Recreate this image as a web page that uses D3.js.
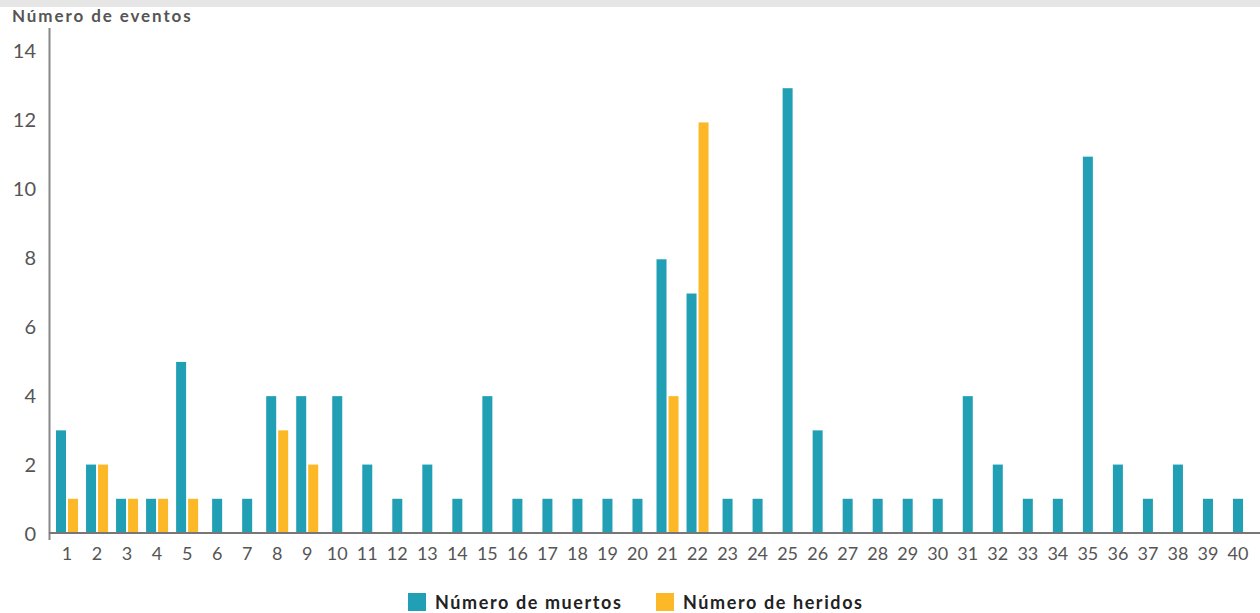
<!DOCTYPE html>
<html>
<head>
<meta charset="utf-8">
<script src="https://cdnjs.cloudflare.com/ajax/libs/d3/7.8.5/d3.min.js"></script>
<style>
  body { margin: 0; background: #fff; }
  svg { display: block; font-family: "Lato", "DejaVu Sans", sans-serif; }
</style>
</head>
<body>
<div id="chart"></div>
<script>
var categories = d3.range(1, 41).map(String);
var muertos = [3, 2, 1, 1, 5, 1, 1, 4, 4, 4, 2, 1, 2, 1, 4, 1, 1, 1, 1, 1,
               8, 7, 1, 1, 13, 3, 1, 1, 1, 1, 4, 2, 1, 1, 11, 2, 1, 2, 1, 1];
var heridos = [1, 2, 1, 1, 1, 0, 0, 3, 2, 0, 0, 0, 0, 0, 0, 0, 0, 0, 0, 0,
               4, 12, 0, 0, 0, 0, 0, 0, 0, 0, 0, 0, 0, 0, 0, 0, 0, 0, 0, 0];
var yTicks = [0, 2, 4, 6, 8, 10, 12, 14];
var seriesNames = ["Número de muertos", "Número de heridos"];
var colors = ["#219fb5", "#fdb827"];

var width = 1260, height = 613;
var svg = d3.select("#chart").append("svg")
    .attr("width", width).attr("height", height);

// top grey band
svg.append("rect").attr("x", 0).attr("y", 0)
    .attr("width", width).attr("height", 7).attr("fill", "#e6e6e6");

var x = d3.scaleBand().domain(categories).range([52, 1253]);
var y = d3.scaleLinear().domain([0, 14]).range([533, 54]);

var barW = 10, gap = 2;

// build bars: group centred on category, skipping empty series
var bars = [];
categories.forEach(function (c, i) {
    var vals = [muertos[i], heridos[i]];
    var present = [];
    vals.forEach(function (v, s) { if (v > 0) present.push(s); });
    var total = present.length * barW + (present.length - 1) * gap;
    var start = x(c) + x.bandwidth() / 2 - total / 2;
    present.forEach(function (s, k) {
        bars.push({ cat: c, s: s, v: vals[s], x0: start + k * (barW + gap) });
    });
});

svg.append("g").selectAll("rect").data(bars).enter().append("rect")
    .attr("x", function (d) { return d.x0; })
    .attr("y", function (d) { return y(d.v); })
    .attr("width", barW)
    .attr("height", function (d) { return y(0) - y(d.v); })
    .attr("fill", function (d) { return colors[d.s]; });

// y axis labels (sit a touch above their value, as in the original)
var yLab = d3.scaleLinear().domain([0, 14]).range([533, 50]);
var yAxis = svg.append("g")
    .attr("transform", "translate(36,0)")
    .call(d3.axisLeft(yLab).tickValues(yTicks).tickSize(0).tickPadding(0));
yAxis.select(".domain").remove();
yAxis.selectAll("text")
    .attr("fill", "#555").style("font-size", "20px")
    .style("font-family", "Lato, sans-serif").attr("dy", "0.35em");

// y axis line
svg.append("line").attr("x1", 49.5).attr("x2", 49.5)
    .attr("y1", 28).attr("y2", 540)
    .attr("stroke", "#888").attr("stroke-width", 2);

// x axis line and labels
var xAxis = svg.append("g")
    .attr("transform", "translate(0," + y(0) + ")")
    .call(d3.axisBottom(x).tickSize(0).tickPadding(14));
xAxis.select(".domain").remove();
xAxis.selectAll("text")
    .attr("fill", "#555").style("font-size", "18px")
    .style("font-family", "Lato, sans-serif");
svg.append("line").attr("x1", 49).attr("x2", width)
    .attr("y1", y(0)).attr("y2", y(0))
    .attr("stroke", "#777").attr("stroke-width", 2);

// title
svg.append("text").attr("x", 12).attr("y", 22)
    .attr("fill", "#555").style("font-size", "17px").style("font-weight", "bold")
    .style("letter-spacing", "1.9px")
    .text("Número de eventos");

// legend
var legend = svg.append("g").attr("transform", "translate(408,593)");
var lx = [0, 248];
seriesNames.forEach(function (n, i) {
    legend.append("rect").attr("x", lx[i]).attr("y", 0)
        .attr("width", 18).attr("height", 18).attr("fill", colors[i]);
    legend.append("text").attr("x", lx[i] + 27).attr("y", 16)
        .attr("fill", "#222").style("font-size", "18px").style("font-weight", "bold")
        .style("letter-spacing", "1.6px")
        .text(n);
});
</script>
</body>
</html>
